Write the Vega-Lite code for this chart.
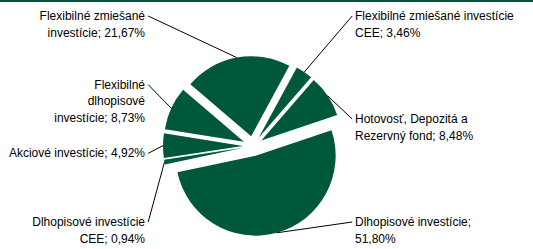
{
  "$schema": "https://vega.github.io/schema/vega-lite/v6.json",
  "width": 533,
  "height": 249,
  "padding": 0,
  "autosize": {"type": "none"},
  "background": "white",
  "config": {"view": {"stroke": null}},
  "data": {
    "values": [
      {"category": "Flexibilné zmiešané investície CEE", "value": 3.46, "label": "Flexibilné zmiešané investície\nCEE; 3,46%"},
      {"category": "Hotovosť, Depozitá a Rezervný fond", "value": 8.48, "label": "Hotovosť, Depozitá a\nRezervný fond; 8,48%"},
      {"category": "Dlhopisové investície", "value": 51.80, "label": "Dlhopisové investície;\n51,80%"},
      {"category": "Dlhopisové investície CEE", "value": 0.94, "label": "Dlhopisové investície\nCEE; 0,94%"},
      {"category": "Akciové investície", "value": 4.92, "label": "Akciové investície; 4,92%"},
      {"category": "Flexibilné dlhopisové investície", "value": 8.73, "label": "Flexibilné\ndlhopisové\ninvestície; 8,73%"},
      {"category": "Flexibilné zmiešané investície", "value": 21.67, "label": "Flexibilné zmiešané\ninvestície; 21,67%"}
    ]
  },
  "transform": [
    {"stack": "value", "groupby": [], "as": ["v0", "v1"]},
    {"calculate": "0.4974 + PI*(datum.v0+datum.v1)/100", "as": "mid"},
    {"calculate": "0.125*sin(datum.mid)", "as": "ex"},
    {"calculate": "0.125*cos(datum.mid)", "as": "ey"},
    {"calculate": "datum.ex + sin(datum.mid)", "as": "px"},
    {"calculate": "datum.ey + cos(datum.mid)", "as": "py"},
    {"calculate": "sin(datum.mid) > 0 ? 'right' : 'left'", "as": "side"},
    {"joinaggregate": [{"op": "count", "as": "n"}], "groupby": ["side"]},
    {"window": [{"op": "row_number", "as": "rk"}], "groupby": ["side"], "sort": [{"field": "ey", "order": "descending"}]},
    {"calculate": "1.625 - 2.575*(datum.rk-1)/(datum.n-1)", "as": "ly"},
    {"calculate": "datum.side == 'right' ? 1.275 : -1.35", "as": "lx"},
    {"calculate": "datum.side == 'right' ? 1.24 : -1.31", "as": "qx"}
  ],
  "layer": [
    {
      "mark": {"type": "rule", "color": "#00583C", "strokeWidth": 4},
      "encoding": {
        "y": {"datum": 1.825, "type": "quantitative", "scale": {"domain": [-1.2875, 1.825], "nice": false, "zero": false}, "axis": null}
      }
    },
    {
      "mark": {"type": "arc", "outerRadius": 80, "color": "#00583C"},
      "encoding": {
        "x": {"field": "ex", "type": "quantitative", "scale": {"domain": [-3.1625, 3.5], "nice": false, "zero": false}, "axis": null},
        "y": {"field": "ey", "type": "quantitative", "scale": {"domain": [-1.2875, 1.825], "nice": false, "zero": false}, "axis": null},
        "theta": {"field": "v0", "type": "quantitative", "stack": null, "scale": {"domain": [0, 100], "range": [0.4974, 6.7806]}},
        "theta2": {"field": "v1"}
      }
    },
    {
      "mark": {"type": "rule", "color": "#000000", "strokeWidth": 1},
      "encoding": {
        "x": {"field": "px", "type": "quantitative", "scale": {"domain": [-3.1625, 3.5], "nice": false, "zero": false}, "axis": null},
        "y": {"field": "py", "type": "quantitative", "scale": {"domain": [-1.2875, 1.825], "nice": false, "zero": false}, "axis": null},
        "x2": {"field": "qx"},
        "y2": {"field": "ly"}
      }
    },
    {
      "transform": [{"filter": "datum.side == 'left'"}],
      "mark": {"type": "text", "align": "right", "baseline": "middle", "font": "Liberation Sans", "fontSize": 12, "lineHeight": 16.5, "lineBreak": "\n", "color": "#000000"},
      "encoding": {
        "x": {"field": "lx", "type": "quantitative", "scale": {"domain": [-3.1625, 3.5], "nice": false, "zero": false}, "axis": null},
        "y": {"field": "ly", "type": "quantitative", "scale": {"domain": [-1.2875, 1.825], "nice": false, "zero": false}, "axis": null},
        "text": {"field": "label"}
      }
    },
    {
      "transform": [{"filter": "datum.side == 'right'"}],
      "mark": {"type": "text", "align": "left", "baseline": "middle", "font": "Liberation Sans", "fontSize": 12, "lineHeight": 16.5, "lineBreak": "\n", "color": "#000000"},
      "encoding": {
        "x": {"field": "lx", "type": "quantitative", "scale": {"domain": [-3.1625, 3.5], "nice": false, "zero": false}, "axis": null},
        "y": {"field": "ly", "type": "quantitative", "scale": {"domain": [-1.2875, 1.825], "nice": false, "zero": false}, "axis": null},
        "text": {"field": "label"}
      }
    }
  ]
}
